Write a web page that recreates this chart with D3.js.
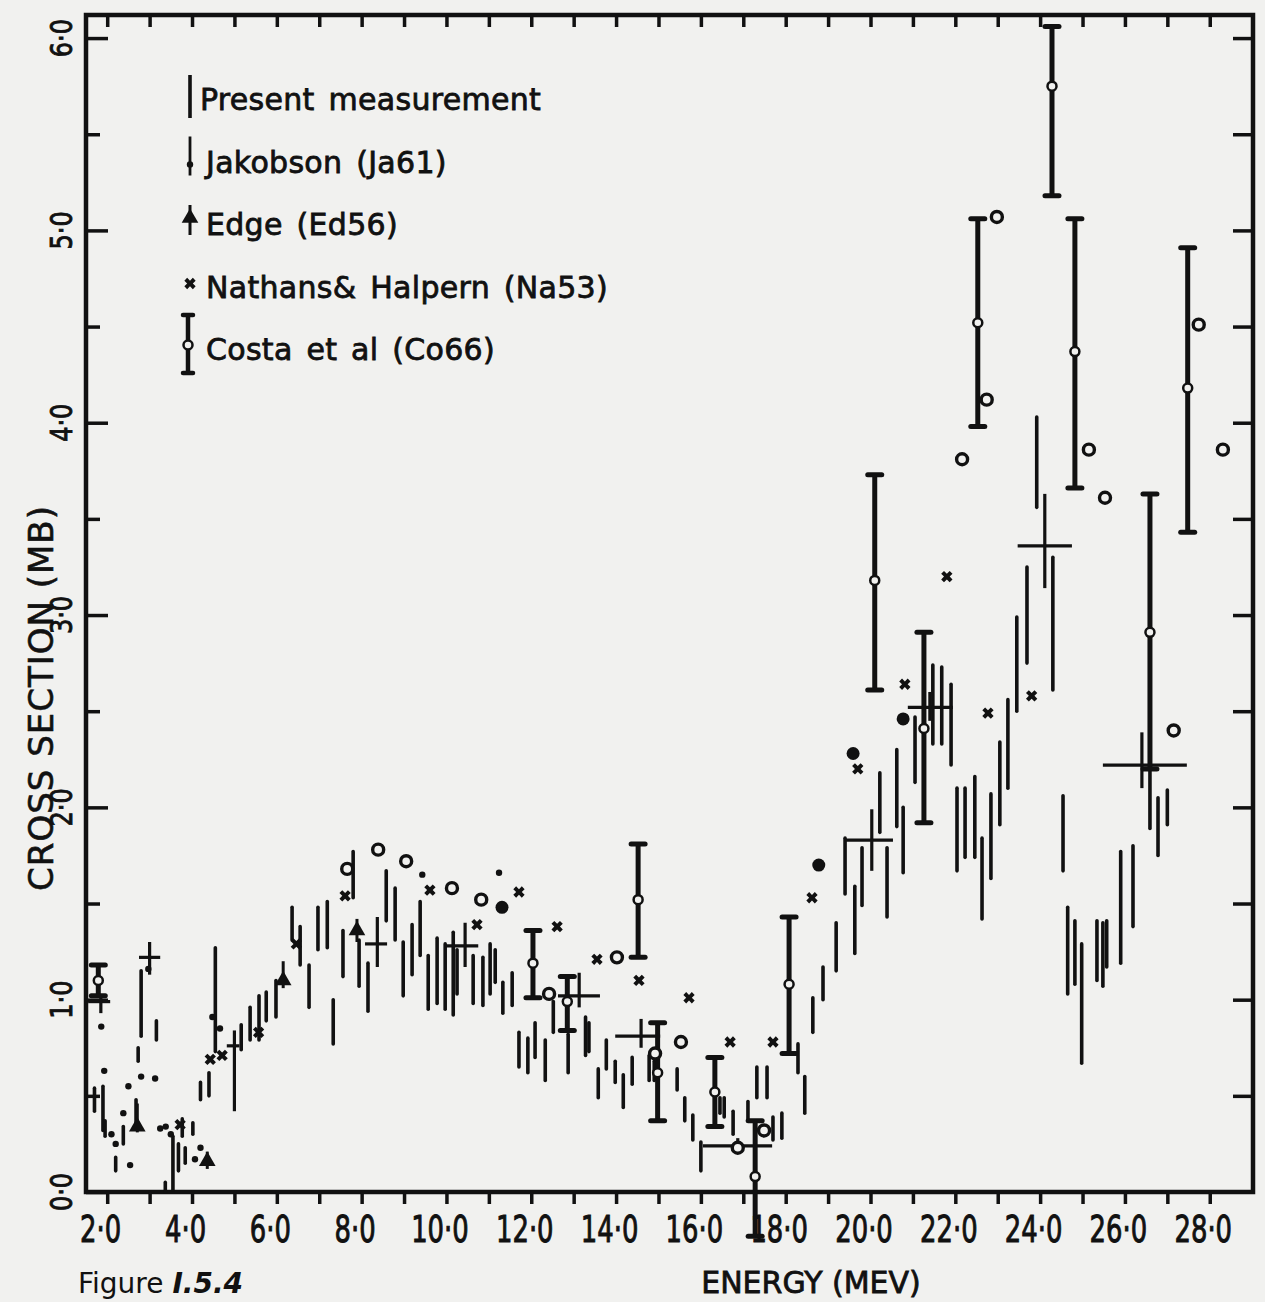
<!DOCTYPE html>
<html>
<head>
<meta charset="utf-8">
<script src="https://cdn.jsdelivr.net/npm/d3@7"></script>
<style>
body { margin: 0; background: #f1f1ef; }
svg { display: block; }
</style>
</head>
<body>
<svg id="viz" width="1265" height="1302"></svg>
<script>
// ---- data (energy in MeV, cross section in mb) ----
var xTickVals = d3.range(2, 29, 1);
var xLabelVals = [2, 4, 6, 8, 10, 12, 14, 16, 18, 20, 22, 24, 26, 28];
var xLabels = ["2·0", "4·0", "6·0", "8·0", "10·0", "12·0", "14·0", "16·0", "18·0", "20·0", "22·0", "24·0", "26·0", "28·0"];
var yLabelVals = [0, 1, 2, 3, 4, 5, 6];
var yLabels = ["0·0", "1·0", "2·0", "3·0", "4·0", "5·0", "6·0"];

var legendLabels = ["Present measurement", "Jakobson (Ja61)", "Edge (Ed56)", "Nathans& Halpern (Na53)", "Costa et al (Co66)"];

// present measurement: [energy, low, high]
var present = [
  [1.70, 0.42, 0.54], [1.90, 0.32, 0.55], [1.95, 0.29, 0.37], [2.20, 0.11, 0.18], [2.38, 0.25, 0.34],
  [2.68, 0.33, 0.48], [2.80, 0.81, 1.15], [2.73, 0.68, 0.75], [3.16, 0.79, 0.89], [3.55, 0.01, 0.29],
  [3.68, 0.11, 0.25], [3.77, 0.29, 0.38], [3.84, 0.15, 0.23], [4.02, 0.30, 0.36], [3.37, 0.00, 0.05],
  [4.55, 0.73, 1.27], [4.20, 0.48, 0.57], [4.40, 0.50, 0.62], [5.16, 0.74, 0.87], [5.37, 0.79, 0.96],
  [5.58, 0.79, 1.02], [5.75, 0.89, 1.04], [5.98, 0.91, 1.10], [6.36, 1.31, 1.48], [6.55, 1.18, 1.38],
  [6.76, 0.96, 1.18], [6.97, 1.26, 1.48], [7.19, 1.27, 1.51], [7.33, 0.77, 1.00], [7.56, 1.12, 1.36],
  [7.80, 1.53, 1.77], [7.94, 1.07, 1.31], [8.15, 0.94, 1.19], [8.58, 1.41, 1.67], [8.79, 1.31, 1.58],
  [8.98, 1.02, 1.30], [9.19, 1.13, 1.39], [9.38, 1.23, 1.51], [9.57, 0.95, 1.23], [9.78, 0.98, 1.32],
  [9.97, 0.95, 1.29], [10.16, 0.92, 1.35], [10.25, 1.03, 1.26], [10.63, 0.98, 1.23], [10.86, 0.97, 1.22],
  [11.03, 1.03, 1.29], [11.15, 1.09, 1.26], [11.33, 0.93, 1.09], [11.55, 0.97, 1.14], [11.71, 0.65, 0.83],
  [11.92, 0.62, 0.80], [12.09, 0.70, 0.88], [12.33, 0.58, 0.79], [12.52, 0.83, 0.99], [12.87, 0.62, 0.82],
  [13.28, 0.71, 0.91], [13.36, 0.73, 0.88], [13.58, 0.49, 0.64], [13.77, 0.64, 0.79], [13.98, 0.57, 0.68],
  [14.17, 0.44, 0.61], [14.38, 0.56, 0.70], [14.78, 0.58, 0.71], [14.90, 0.58, 0.68], [15.44, 0.53, 0.64],
  [15.62, 0.37, 0.49], [15.81, 0.27, 0.40], [16.00, 0.11, 0.26], [16.45, 0.41, 0.49], [16.55, 0.39, 0.49],
  [16.76, 0.30, 0.42], [17.11, 0.37, 0.47], [17.32, 0.49, 0.65], [17.56, 0.49, 0.65], [17.70, 0.27, 0.39],
  [17.91, 0.28, 0.41], [18.29, 0.62, 0.77], [18.45, 0.41, 0.60], [18.64, 0.83, 1.01], [18.88, 1.00, 1.17],
  [19.19, 1.15, 1.40], [19.40, 1.55, 1.84], [19.63, 1.24, 1.59], [19.80, 1.49, 1.79], [20.22, 1.87, 2.18],
  [20.39, 1.43, 1.79], [20.62, 1.90, 2.30], [20.77, 1.66, 2.00], [21.05, 2.13, 2.47], [21.47, 2.33, 2.74],
  [21.68, 2.33, 2.73], [21.90, 2.22, 2.64], [22.04, 1.67, 2.10], [22.23, 1.74, 2.10], [22.46, 1.74, 2.16],
  [22.63, 1.42, 1.84], [22.84, 1.63, 2.07], [23.05, 1.91, 2.34], [23.24, 2.10, 2.56], [23.45, 2.50, 2.99],
  [23.69, 2.75, 3.25], [23.92, 3.56, 4.03], [24.30, 2.61, 3.30], [24.54, 1.67, 2.06], [24.65, 1.03, 1.48],
  [24.82, 1.08, 1.41], [24.98, 0.67, 1.29], [25.34, 1.10, 1.41], [25.48, 1.07, 1.40], [25.57, 1.17, 1.41],
  [25.90, 1.19, 1.77], [26.19, 1.38, 1.80], [26.59, 1.89, 2.21], [26.78, 1.75, 2.05], [27.00, 1.91, 2.09]
];

// present measurement averaged over energy bins: [energy, value, eLow, eHigh, vLow, vHigh]
var binned = [
  [1.85, 0.99, 1.55, 2.07, 0.93, 1.02], [3.00, 1.22, 2.75, 3.25, 1.13, 1.30], [5.00, 0.76, 4.82, 5.12, 0.42, 0.84],
  [8.37, 1.29, 8.08, 8.60, 1.17, 1.43], [10.44, 1.28, 9.97, 10.75, 1.17, 1.40], [13.13, 1.02, 12.63, 13.62, 0.96, 1.14],
  [14.59, 0.81, 13.98, 15.04, 0.75, 0.90], [16.87, 0.24, 16.05, 17.68, 0.20, 0.28], [20.03, 1.83, 19.40, 20.53, 1.67, 1.99],
  [21.40, 2.52, 20.88, 21.94, 2.45, 2.60], [24.11, 3.36, 23.47, 24.75, 3.14, 3.63], [26.40, 2.22, 25.48, 27.46, 2.10, 2.39]
];

// Jakobson (Ja61): [energy, value]
var jakobson = [
  [1.86, 0.86], [1.93, 0.63], [2.10, 0.30], [2.20, 0.25], [2.38, 0.41], [2.50, 0.55], [2.54, 0.14],
  [2.80, 0.60], [2.97, 1.16], [3.13, 0.59], [3.25, 0.33], [3.38, 0.34], [3.50, 0.30], [4.07, 0.17],
  [4.20, 0.23], [4.48, 0.91], [4.66, 0.85], [9.43, 1.65], [11.24, 1.66]
];

// Edge (Ed56): [energy, value, low, high]
var edge = [[2.71, 0.34, 0.31, 0.46], [4.36, 0.16, 0.12, 0.21], [6.15, 1.10, 1.06, 1.20], [7.89, 1.36, 1.30, 1.42]];

// Nathans & Halpern (Na53): [energy, value]
var nathans = [
  [3.72, 0.35], [4.43, 0.69], [4.71, 0.71], [5.57, 0.83], [6.46, 1.29], [7.61, 1.54], [9.61, 1.57],
  [10.72, 1.39], [11.71, 1.56], [12.61, 1.38], [13.55, 1.21], [14.54, 1.10], [15.72, 1.01], [16.69, 0.78],
  [17.70, 0.78], [18.62, 1.53], [19.70, 2.20], [20.81, 2.64], [21.80, 3.20], [22.77, 2.49], [23.80, 2.58]
];

// Costa et al (Co66) with errors: [energy, value, low, high]
var costaErr = [
  [1.79, 1.10, 1.02, 1.18], [12.04, 1.19, 1.01, 1.36], [12.85, 0.99, 0.84, 1.12], [14.52, 1.52, 1.22, 1.81],
  [14.98, 0.62, 0.37, 0.88], [16.33, 0.52, 0.34, 0.70], [17.28, 0.08, -0.23, 0.37], [18.08, 1.08, 0.72, 1.43],
  [20.10, 3.18, 2.61, 3.73], [21.26, 2.41, 1.92, 2.91], [22.53, 4.52, 3.98, 5.06], [24.28, 5.75, 5.18, 6.06],
  [24.82, 4.37, 3.66, 5.06], [26.59, 2.91, 2.20, 3.63], [27.48, 4.18, 3.43, 4.91]
];

// Costa et al without error bars (open rings): [energy, value]
var costaPts = [
  [7.66, 1.68], [8.39, 1.78], [9.05, 1.72], [10.13, 1.58], [10.82, 1.52], [12.42, 1.03], [14.02, 1.22],
  [14.92, 0.72], [15.53, 0.78], [16.87, 0.23], [17.49, 0.32], [22.16, 3.81], [22.74, 4.12], [22.98, 5.07],
  [25.15, 3.86], [25.53, 3.61], [27.15, 2.40], [27.74, 4.51], [28.31, 3.86]
];

// heavy solid dots
var solidPts = [[11.31, 1.48], [18.78, 1.70], [19.59, 2.28], [20.77, 2.46]];

// ---- drawing ----
var ink = "#111", paper = "#f1f1ef";
var font = "'DejaVu Sans', Verdana, sans-serif";
var svg = d3.select("#viz");

var x = d3.scaleLinear().domain([1.5, 29.02]).range([86, 1253]);
var y = d3.scaleLinear().domain([0, 6.12]).range([1192, 15]);

svg.append("rect").attr("width", 1265).attr("height", 1302).attr("fill", paper);

// frame
svg.append("rect")
  .attr("x", x(1.5)).attr("y", y(6.12))
  .attr("width", x(29.02) - x(1.5)).attr("height", y(0) - y(6.12))
  .attr("fill", "none").attr("stroke", ink).attr("stroke-width", 4.5);

// bottom axis with labels
var gx = svg.append("g").attr("transform", "translate(0," + y(0) + ")")
  .call(d3.axisBottom(x).tickValues(xTickVals).tickSize(12).tickSizeOuter(0)
    .tickFormat(function(d) { var i = xLabelVals.indexOf(d); return i < 0 ? "" : xLabels[i]; }));
gx.select(".domain").remove();
gx.selectAll("line").attr("stroke", ink).attr("stroke-width", 3.5);
gx.selectAll("text")
  .attr("y", 50).attr("dy", 0).attr("dx", -10)
  .attr("transform", "scale(0.7,1)")
  .style("font-family", font).style("font-size", "37px").attr("fill", ink)
  .attr("stroke", ink).attr("stroke-width", 1);

// top axis ticks (inward)
var gt = svg.append("g").attr("transform", "translate(0," + y(6.12) + ")")
  .call(d3.axisTop(x).tickValues(xTickVals).tickSize(-12).tickSizeOuter(0).tickFormat(""));
gt.select(".domain").remove();
gt.selectAll("line").attr("stroke", ink).attr("stroke-width", 3.5);

// left axis ticks (inward, longer at whole numbers)
var gl = svg.append("g").attr("transform", "translate(" + x(1.5) + ",0)")
  .call(d3.axisLeft(y).tickValues(d3.range(0, 6.01, 0.5)).tickSize(-22).tickSizeOuter(0).tickFormat(""));
gl.select(".domain").remove();
gl.selectAll("line").attr("stroke", ink).attr("stroke-width", 3.5)
  .attr("x2", function(d) { return d % 1 === 0 ? 22 : 14; });

// right axis ticks (inward)
var gr = svg.append("g").attr("transform", "translate(" + x(29.02) + ",0)")
  .call(d3.axisRight(y).tickValues(d3.range(0.5, 6.01, 0.5)).tickSize(-20).tickSizeOuter(0).tickFormat(""));
gr.select(".domain").remove();
gr.selectAll("line").attr("stroke", ink).attr("stroke-width", 3.5);

// y labels, rotated
svg.selectAll(".ylab").data(yLabelVals).enter().append("text")
  .attr("class", "ylab")
  .attr("transform", function(d) { return "translate(72," + y(d) + ") rotate(-90) scale(0.8,1)"; })
  .attr("text-anchor", "middle")
  .style("font-family", font).style("font-size", "30px").attr("fill", ink)
  .attr("stroke", ink).attr("stroke-width", 0.9)
  .text(function(d, i) { return yLabels[i]; });

// axis titles
svg.append("text")
  .attr("transform", "translate(53,698) rotate(-90)")
  .attr("text-anchor", "middle")
  .style("font-family", font).style("font-size", "34px").style("letter-spacing", "1px")
  .attr("fill", ink).attr("stroke", ink).attr("stroke-width", 0.6)
  .text("CROSS SECTION (MB)");

svg.append("text")
  .attr("x", 811).attr("y", 1293)
  .attr("text-anchor", "middle")
  .style("font-family", font).style("font-size", "30px")
  .attr("fill", ink).attr("stroke", ink).attr("stroke-width", 0.8)
  .text("ENERGY (MEV)");

svg.append("text")
  .attr("x", 78).attr("y", 1293)
  .style("font-family", font).style("font-size", "28px")
  .attr("fill", ink)
  .text("Figure ")
  .append("tspan").style("font-weight", "bold").style("font-style", "italic").text("I.5.4");

// present measurement bars
svg.append("g").selectAll("line").data(present).enter().append("line")
  .attr("x1", d => x(d[0])).attr("x2", d => x(d[0]))
  .attr("y1", d => y(d[1])).attr("y2", d => y(d[2]))
  .attr("stroke", ink).attr("stroke-width", 3.6).attr("stroke-linecap", "round");

// binned crosses
var cross = svg.append("g").selectAll("g").data(binned).enter().append("g");
cross.append("line")
  .attr("x1", d => x(d[2])).attr("x2", d => x(d[3]))
  .attr("y1", d => y(d[1])).attr("y2", d => y(d[1]))
  .attr("stroke", ink).attr("stroke-width", 3.2);
cross.append("line")
  .attr("x1", d => x(d[0])).attr("x2", d => x(d[0]))
  .attr("y1", d => y(d[4])).attr("y2", d => y(d[5]))
  .attr("stroke", ink).attr("stroke-width", 3.2);

// Costa error bars
var cg = svg.append("g").selectAll("g").data(costaErr).enter().append("g");
cg.append("line")
  .attr("x1", d => x(d[0])).attr("x2", d => x(d[0]))
  .attr("y1", d => y(d[2])).attr("y2", d => y(d[3]))
  .attr("stroke", ink).attr("stroke-width", 5);
cg.selectAll(".cap").data(d => [[d[0], d[2]], [d[0], d[3]]]).enter().append("line")
  .attr("x1", d => x(d[0]) - 7).attr("x2", d => x(d[0]) + 7)
  .attr("y1", d => y(d[1])).attr("y2", d => y(d[1]))
  .attr("stroke", ink).attr("stroke-width", 5).attr("stroke-linecap", "round");
cg.append("circle")
  .attr("cx", d => x(d[0])).attr("cy", d => y(d[1])).attr("r", 4.5)
  .attr("fill", paper).attr("stroke", ink).attr("stroke-width", 2.5);

// Costa open rings
svg.append("g").selectAll("circle").data(costaPts).enter().append("circle")
  .attr("cx", d => x(d[0])).attr("cy", d => y(d[1])).attr("r", 5.5)
  .attr("fill", paper).attr("stroke", ink).attr("stroke-width", 3.4);

// solid dots
svg.append("g").selectAll("circle").data(solidPts).enter().append("circle")
  .attr("cx", d => x(d[0])).attr("cy", d => y(d[1])).attr("r", 6.5).attr("fill", ink);

// Jakobson dots
svg.append("g").selectAll("circle").data(jakobson).enter().append("circle")
  .attr("cx", d => x(d[0])).attr("cy", d => y(d[1])).attr("r", 3.2).attr("fill", ink);

// Edge triangles with short stems
var tri = d3.symbol().type(d3.symbolTriangle).size(120);
var eg = svg.append("g").selectAll("g").data(edge).enter().append("g");
eg.append("line")
  .attr("x1", d => x(d[0])).attr("x2", d => x(d[0]))
  .attr("y1", d => y(d[2])).attr("y2", d => y(d[3]))
  .attr("stroke", ink).attr("stroke-width", 3);
eg.append("path")
  .attr("d", tri)
  .attr("transform", d => "translate(" + x(d[0]) + "," + y(d[1]) + ")")
  .attr("fill", ink);

// Nathans & Halpern crosses
var xs = d3.symbol().type(d3.symbolCross).size(80);
svg.append("g").selectAll("path").data(nathans).enter().append("path")
  .attr("d", xs)
  .attr("transform", d => "translate(" + x(d[0]) + "," + y(d[1]) + ") rotate(45)")
  .attr("fill", ink);

// ---- legend ----
var legend = svg.append("g").selectAll("g").data(legendLabels).enter().append("g")
  .attr("transform", function(d, i) { return "translate(0," + (110 + i * 62.5) + ")"; });

legend.append("text")
  .attr("x", function(d, i) { return i === 0 ? 200 : 206; })
  .attr("y", 0)
  .style("font-family", font).style("font-size", "30px")
  .style("letter-spacing", "0.3px").style("word-spacing", "4px")
  .attr("fill", ink).attr("stroke", ink).attr("stroke-width", 0.8)
  .text(d => d);

legend.each(function(d, i) {
  var g = d3.select(this);
  if (i === 0) {
    g.append("line").attr("x1", 190).attr("x2", 190).attr("y1", -35).attr("y2", 8)
      .attr("stroke", ink).attr("stroke-width", 3.6);
  } else if (i === 1) {
    g.append("line").attr("x1", 190).attr("x2", 190).attr("y1", -36).attr("y2", 3)
      .attr("stroke", ink).attr("stroke-width", 2.8);
    g.append("circle").attr("cx", 190).attr("cy", -8).attr("r", 3.2).attr("fill", ink);
  } else if (i === 2) {
    g.append("line").attr("x1", 190).attr("x2", 190).attr("y1", -30).attr("y2", 0)
      .attr("stroke", ink).attr("stroke-width", 3);
    g.append("path").attr("d", tri).attr("transform", "translate(190,-17)").attr("fill", ink);
  } else if (i === 3) {
    g.append("path").attr("d", xs).attr("transform", "translate(190,-14) rotate(45)").attr("fill", ink);
  } else {
    g.append("line").attr("x1", 188).attr("x2", 188).attr("y1", -45).attr("y2", 13)
      .attr("stroke", ink).attr("stroke-width", 4.5);
    g.append("line").attr("x1", 183).attr("x2", 193).attr("y1", -45).attr("y2", -45)
      .attr("stroke", ink).attr("stroke-width", 4.5).attr("stroke-linecap", "round");
    g.append("line").attr("x1", 183).attr("x2", 193).attr("y1", 13).attr("y2", 13)
      .attr("stroke", ink).attr("stroke-width", 4.5).attr("stroke-linecap", "round");
    g.append("circle").attr("cx", 188).attr("cy", -15).attr("r", 4.5)
      .attr("fill", paper).attr("stroke", ink).attr("stroke-width", 2.5);
  }
});
</script>
</body>
</html>
